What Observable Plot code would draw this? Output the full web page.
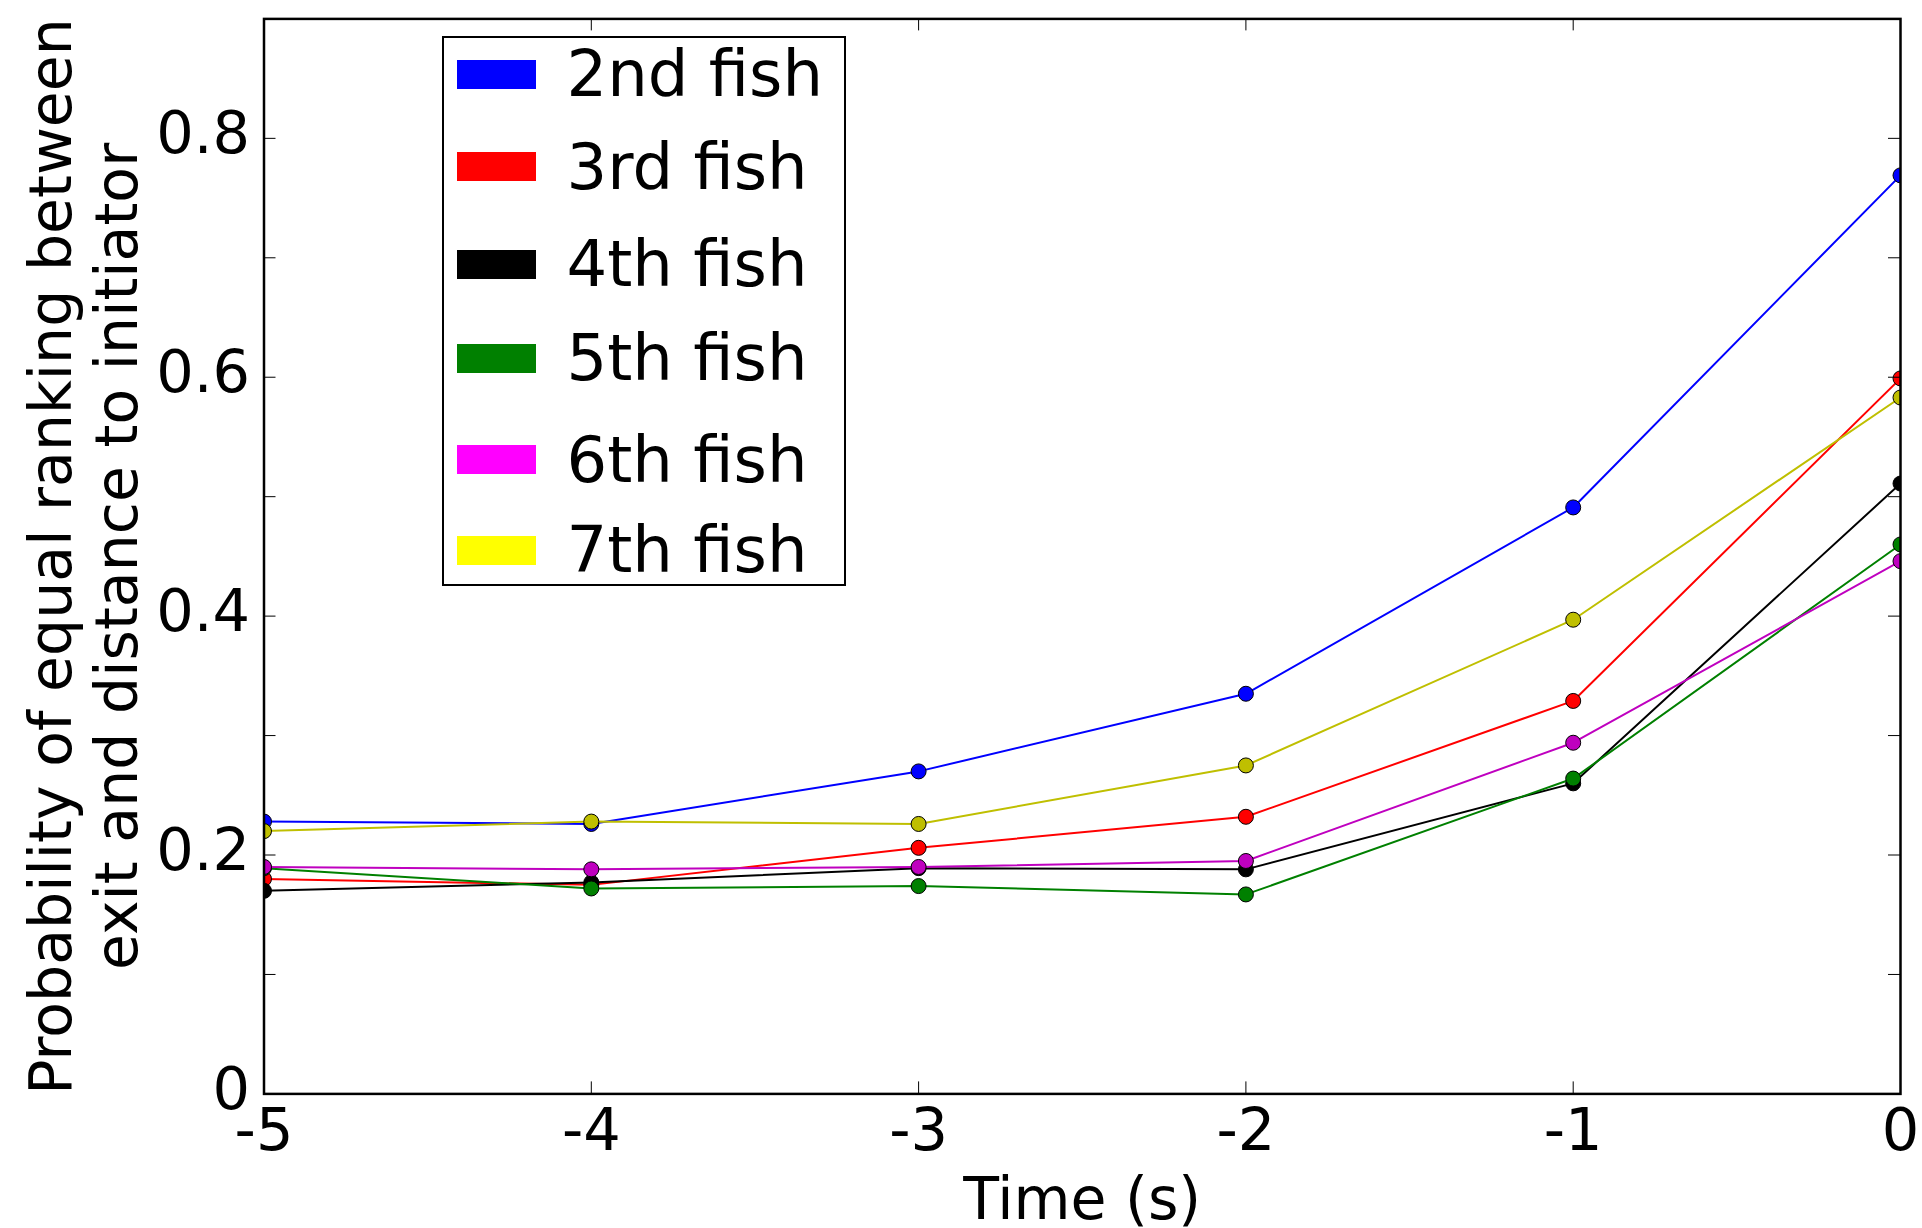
<!DOCTYPE html>
<html>
<head>
<meta charset="utf-8">
<script src="https://cdn.jsdelivr.net/npm/d3@7"></script>
<script src="https://cdn.jsdelivr.net/npm/@observablehq/plot@0.6"></script>
<style>
  html, body { margin: 0; padding: 0; background: white; overflow: hidden; }
  #wrap { position: relative; width: 1922px; height: 1228px; font-family: "DejaVu Sans", sans-serif; }
  #legend { position: absolute; left: 442px; top: 36px; width: 400px; height: 546px;
            border: 2.5px solid black; background: white; }
  .row { position: absolute; left: 0; height: 64px; display: flex; align-items: center; }
  .sw { width: 79px; height: 29px; margin-left: 13px; }
  .lab { margin-left: 30.5px; font-size: 64px; line-height: 64px; color: black; white-space: nowrap; }
</style>
</head>
<body>
<div id="wrap"></div>
<script>
// ---- data ----
const times = [-5, -4, -3, -2, -1, 0];
const seriesNames = ["2nd fish", "3rd fish", "4th fish", "5th fish", "6th fish", "7th fish"];
const fish2 = [0.228, 0.226, 0.270, 0.335, 0.491, 0.769];
const fish3 = [0.180, 0.175, 0.206, 0.232, 0.329, 0.599];
const fish4 = [0.170, 0.177, 0.189, 0.188, 0.260, 0.511];
const fish5 = [0.189, 0.172, 0.174, 0.167, 0.264, 0.460];
const fish6 = [0.190, 0.188, 0.190, 0.195, 0.294, 0.446];
const fish7 = [0.220, 0.228, 0.226, 0.275, 0.397, 0.583];
const seriesValues = [fish2, fish3, fish4, fish5, fish6, fish7];
const lineColors = ["#0000ff", "#ff0000", "#000000", "#008000", "#bf00bf", "#bfbf00"];
const legendColors = ["#0000ff", "#ff0000", "#000000", "#008000", "#ff00ff", "#ffff00"];
const xTickValues = [-5, -4, -3, -2, -1, 0];
const xInnerTicks = [-4, -3, -2, -1];
const yLabelValues = [0, 0.2, 0.4, 0.6, 0.8];
const yTickValues = [0.1, 0.2, 0.3, 0.4, 0.5, 0.6, 0.7, 0.8];
const xLabel = "Time (s)";
const yLabel = "Probability of equal ranking between\nexit and distance to initiator";

// ---- layout ----
const W = 1922, H = 1228;
const mL = 263.5, mR = 22, mT = 18.4, mB = 134.6;
const plotW = W - mL - mR, plotH = H - mT - mB;
const tickLen = 12;
const fs = 59;

const marks = [];
seriesNames.forEach((name, i) => {
  const data = times.map((t, j) => ({t, v: seriesValues[i][j], s: name}));
  marks.push(Plot.line(data, {x: "t", y: "v", stroke: lineColors[i], strokeWidth: 2, clip: true}));
  marks.push(Plot.dot(data, {x: "t", y: "v", fill: lineColors[i], stroke: "black", strokeWidth: 1, r: 7.5, clip: true}));
});

// inward ticks on all four sides
marks.push(Plot.ruleY(yTickValues, {y: d => d, insetRight: plotW - tickLen, stroke: "black", strokeWidth: 1}));
marks.push(Plot.ruleY(yTickValues, {y: d => d, insetLeft: plotW - tickLen, stroke: "black", strokeWidth: 1}));
marks.push(Plot.ruleX(xInnerTicks, {x: d => d, insetTop: plotH - tickLen, stroke: "black", strokeWidth: 1}));
marks.push(Plot.ruleX(xInnerTicks, {x: d => d, insetBottom: plotH - tickLen, stroke: "black", strokeWidth: 1}));

marks.push(Plot.frame({stroke: "black", strokeWidth: 2.5}));

marks.push(Plot.axisX(xTickValues, {anchor: "bottom", tickSize: 0, tickPadding: 14, fontSize: fs,
  tickFormat: d => String(d), label: null}));
marks.push(Plot.axisY(yLabelValues, {anchor: "left", tickSize: 0, tickPadding: 14, fontSize: fs, dy: -4,
  tickFormat: d => String(d), label: null}));

marks.push(Plot.text([xLabel], {frameAnchor: "bottom", text: d => d, dy: 125, lineAnchor: "bottom",
  textAnchor: "middle", fontSize: 58.5, fill: "black"}));
marks.push(Plot.text([yLabel], {frameAnchor: "left", text: d => d, dx: 136 - mL, rotate: -90,
  lineAnchor: "bottom", lineHeight: 1.12, textAnchor: "middle", fontSize: 58.5, fill: "black"}));

const chart = Plot.plot({
  width: W, height: H,
  marginLeft: mL, marginRight: mR, marginTop: mT, marginBottom: mB,
  x: {domain: [-5, 0]},
  y: {domain: [0, 0.9]},
  style: {fontFamily: "DejaVu Sans", background: "white", color: "black", overflow: "visible"},
  marks
});

const wrap = document.getElementById("wrap");
wrap.appendChild(chart);

// legend
const rowCenters = [36, 128.6, 226, 320, 421.5, 512];
const legend = document.createElement("div");
legend.id = "legend";
seriesNames.forEach((name, i) => {
  const row = document.createElement("div");
  row.className = "row";
  row.style.top = (rowCenters[i] - 32) + "px";
  const sw = document.createElement("div");
  sw.className = "sw";
  sw.style.background = legendColors[i];
  const lab = document.createElement("div");
  lab.className = "lab";
  lab.textContent = name;
  row.appendChild(sw);
  row.appendChild(lab);
  legend.appendChild(row);
});
wrap.appendChild(legend);
</script>
</body>
</html>
